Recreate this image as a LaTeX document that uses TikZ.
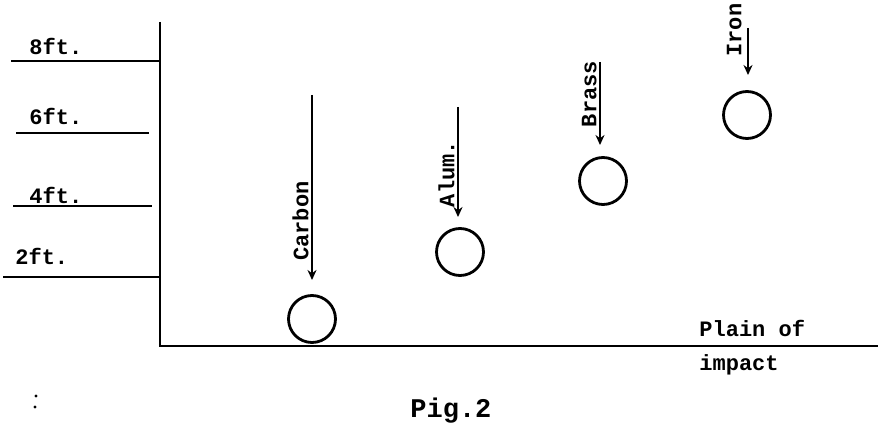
\documentclass[tikz,border=0pt]{standalone}
\usepackage{fontspec}
\setmonofont{Liberation Mono}
\usepackage{tikz}
\usetikzlibrary{arrows.meta,positioning,calc}

\tikzset{
    ball/.style={circle, draw, line width=1.4pt, minimum size=23.5pt, inner sep=0pt},
    drop/.style={-{Stealth[length=5, width=4.5]}, line width=1.2pt},
    tag/.style={font=\ttfamily\bfseries\fontsize{11}{12}\selectfont, inner sep=1pt},
    hgt/.style={tag, anchor=base west}
}

\begin{document}
\begin{tikzpicture}[x=0.5pt, y=0.5pt]
    \useasboundingbox (0,0) rectangle (882,429);

    % axes
    \coordinate (top) at (160,407);
    \coordinate (origin) at (160,83);
    \coordinate (far) at (878,83);
    \draw[line width=1.4pt] (top) -- (origin) -- (far);

    % height marks
    \coordinate (h8a) at (11,368);  \coordinate (h8b) at (160,368);
    \coordinate (h6a) at (16,296);  \coordinate (h6b) at (149,296);
    \coordinate (h4a) at (13,223);  \coordinate (h4b) at (152,223);
    \coordinate (h2a) at (3,152);   \coordinate (h2b) at (160,152);
    \draw[line width=1.4pt] (h8a) -- (h8b);
    \draw[line width=1.4pt] (h6a) -- (h6b);
    \draw[line width=1.4pt] (h4a) -- (h4b);
    \draw[line width=1.4pt] (h2a) -- (h2b);
    \node[hgt] (l8) at (27,374) {8ft.};
    \node[hgt] (l6) at (27,304) {6ft.};
    \node[hgt] (l4) at (27,226) {4ft.};
    \node[hgt] (l2) at (13,165) {2ft.};

    % balls
    \node[ball] (carbon) at (312,110) {};
    \node[ball] (alum) at (460,177) {};
    \node[ball] (brass) at (603,248) {};
    \node[ball] (iron) at (747,314) {};

    % falling arrows
    \coordinate (c0) at (312,334); \coordinate (c1) at (312,149);
    \coordinate (a0) at (458,322); \coordinate (a1) at (458,212);
    \coordinate (b0) at (600,367); \coordinate (b1) at (600,284);
    \coordinate (i0) at (748,401); \coordinate (i1) at (748,354);
    \draw[drop] (c0) -- (c1);
    \draw[drop] (a0) -- (a1);
    \draw[drop] (b0) -- (b1);
    \draw[drop] (i0) -- (i1);
    \node[tag, rotate=90, anchor=south] (tc) at (311,208) {Carbon};
    \node[tag, rotate=90, anchor=south] (ta) at (457,255) {Alum.};
    \node[tag, rotate=90, anchor=south] (tb) at (599,335) {Brass};
    \node[tag, rotate=90, anchor=south] (ti) at (744,399) {Iron};

    % plane label
    \node[hgt] (plain) at (697,93) {Plain of};
    \node[hgt] (impact) at (697,59) {impact};

    % caption
    \fill (36,33) circle (1.6) (35,22) circle (1.6);
    \node[tag, anchor=base west, font=\ttfamily\bfseries\fontsize{13.5}{15}\selectfont] (cap) at (408,12) {Pig.2};
\end{tikzpicture}
\end{document}
